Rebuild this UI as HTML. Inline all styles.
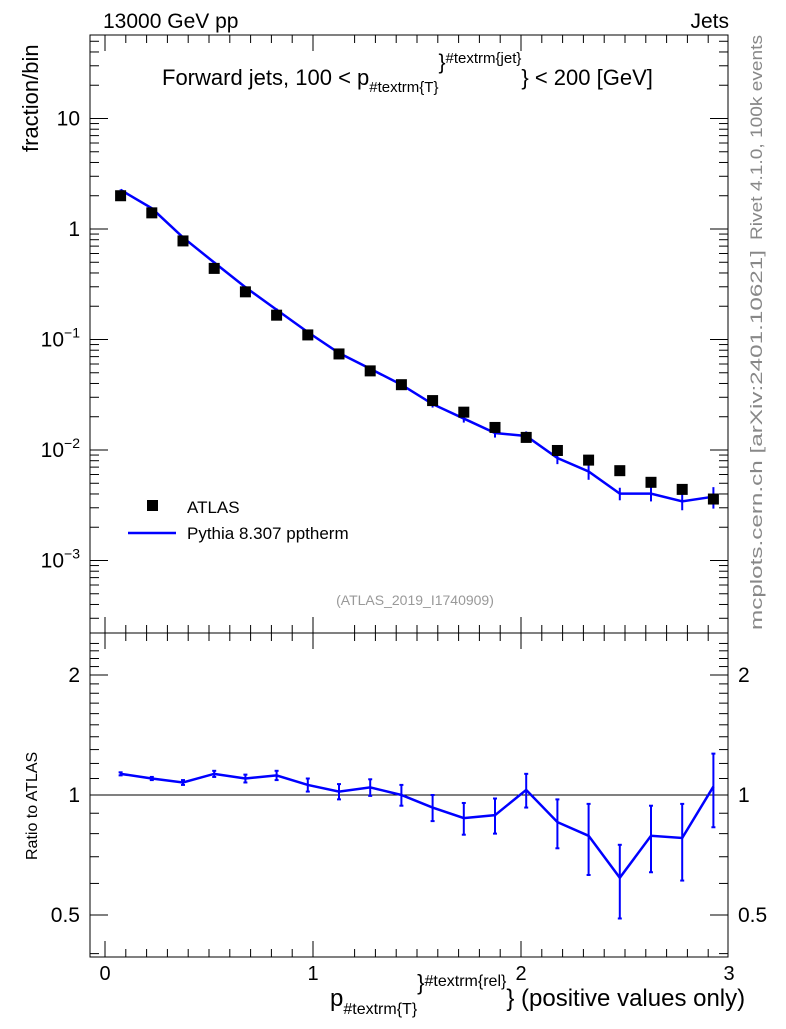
<!DOCTYPE html>
<html><head><meta charset="utf-8"><style>
body{margin:0;background:#fff;}
svg text{font-family:"Liberation Sans",sans-serif;}
</style></head><body>
<svg id="chart" width="786" height="1024" xmlns="http://www.w3.org/2000/svg">
<g id="g"></g>
</svg>
<script>
const binCenters=[0.075,0.225,0.375,0.525,0.675,0.825,0.975,1.125,1.275,1.425,1.575,1.725,1.875,2.025,2.175,2.325,2.475,2.625,2.775,2.925];
const atlasValues=[2.0,1.40,0.78,0.44,0.27,0.166,0.11,0.074,0.052,0.039,0.028,0.022,0.016,0.013,0.0099,0.0081,0.0065,0.0051,0.0044,0.0036];
const ratioValues=[1.13,1.10,1.075,1.13,1.10,1.12,1.06,1.02,1.045,1.00,0.93,0.875,0.89,1.03,0.855,0.79,0.62,0.79,0.78,1.05];
const ratioErrors=[0.01,0.01,0.015,0.02,0.025,0.03,0.04,0.045,0.05,0.06,0.07,0.08,0.09,0.1,0.12,0.16,0.13,0.15,0.17,0.22];
const xTicks=[0,1,2,3];
const yDecades=[-3,-2,-1,0,1];
const ratioTicks=[0.5,1,2];

const NS="http://www.w3.org/2000/svg";
const g=document.getElementById('g');
function el(t,a,txt){const e=document.createElementNS(NS,t);for(const k in a)e.setAttribute(k,a[k]);if(txt!==undefined)e.textContent=txt;g.appendChild(e);return e;}
const L=90,R=728,T=35,B=633,RT=633,RB=957;
const xs=v=>105+208*v;
const ys=v=>229-110.5*Math.log10(v);
const yr=v=>795-398.6*Math.log10(v);

let f=el('rect',{x:L,y:T,width:R-L,height:B-T,fill:'none',stroke:'#000','stroke-width':1});

f=el('rect',{x:L,y:RT,width:R-L,height:RB-RT,fill:'none',stroke:'#000','stroke-width':1});


for(let v=-0.05;v<=3.02;v+=0.1){
  const vv=Math.round(v*10)/10; if(vv<-0.07)continue;
  const x=xs(vv); if(x<L||x>R)continue;
  const major=Math.abs(vv-Math.round(vv))<1e-6;
  const len=major?16:8;
  el('line',{x1:x,y1:B,x2:x,y2:B-len,stroke:'#000'});
  el('line',{x1:x,y1:T,x2:x,y2:T+len,stroke:'#000'});
  el('line',{x1:x,y1:RB,x2:x,y2:RB-len,stroke:'#000'});
  el('line',{x1:x,y1:RT,x2:x,y2:RT+len,stroke:'#000'});
}
xTicks.forEach(v=>{const t=el('text',{x:xs(v),y:980,'font-size':20,'text-anchor':'middle'},String(v));
});

for(let d=-4;d<=1;d++){for(let m=1;m<10;m++){const v=m*Math.pow(10,d);const y=ys(v);if(y<T||y>B)continue;
const len=m==1?18:9;el('line',{x1:L,y1:y,x2:L+len,y2:y,stroke:'#000'});el('line',{x1:R,y1:y,x2:R-len,y2:y,stroke:'#000'});}}
yDecades.forEach(d=>{const y=ys(Math.pow(10,d));let t;
if(d==0)t=el('text',{x:80,y:y+7,'font-size':21,'text-anchor':'end'},'1');
else if(d==1)t=el('text',{x:80,y:y+7,'font-size':21,'text-anchor':'end'},'10');
else{t=el('text',{x:80,y:y+7,'font-size':21,'text-anchor':'end'});
const a=document.createElementNS(NS,'tspan');a.textContent='10';t.appendChild(a);
const b=document.createElementNS(NS,'tspan');b.setAttribute('dy','-9');b.setAttribute('font-size','14');b.textContent='\u2212'+(-d);t.appendChild(b);}
});

for(let v=0.4;v<=2.5;v+=0.1){const vv=Math.round(v*10)/10;const y=yr(vv);if(y<RT||y>RB)continue;
const major=ratioTicks.includes(vv);const len=major?18:9;
el('line',{x1:L,y1:y,x2:L+len,y2:y,stroke:'#000'});el('line',{x1:R,y1:y,x2:R-len,y2:y,stroke:'#000'});}
ratioTicks.forEach(v=>{const y=yr(v);
let t=el('text',{x:80,y:y+7,'font-size':21,'text-anchor':'end'},String(v));
t=el('text',{x:738,y:y+7,'font-size':21},String(v));});
let ln=el('line',{x1:L,y1:yr(1),x2:R,y2:yr(1),stroke:'#000'});


const mc=atlasValues.map((a,i)=>a*ratioValues[i]);
let p=el('polyline',{points:binCenters.map((x,i)=>xs(x)+','+ys(mc[i])).join(' '),fill:'none',stroke:'#0000ff','stroke-width':2.5});

mc.forEach((m,i)=>{const e=m*ratioErrors[i];const x=xs(binCenters[i]);
el('line',{x1:x,y1:ys(m+e),x2:x,y2:ys(Math.max(m-e,1e-6)),stroke:'#0000ff','stroke-width':2});});
atlasValues.forEach((a,i)=>{const r=el('rect',{x:xs(binCenters[i])-5.5,y:ys(a)-5.5,width:11,height:11,fill:'#000'});
});
p=el('polyline',{points:binCenters.map((x,i)=>xs(x)+','+yr(ratioValues[i])).join(' '),fill:'none',stroke:'#0000ff','stroke-width':2.5});

ratioValues.forEach((r,i)=>{const e=ratioErrors[i];const x=xs(binCenters[i]);
el('line',{x1:x,y1:yr(r+e),x2:x,y2:yr(r-e),stroke:'#0000ff','stroke-width':2});
el('line',{x1:x-2,y1:yr(r+e),x2:x+2,y2:yr(r+e),stroke:'#0000ff','stroke-width':2});
el('line',{x1:x-2,y1:yr(r-e),x2:x+2,y2:yr(r-e),stroke:'#0000ff','stroke-width':2});});

let lr=el('rect',{x:147,y:500,width:11,height:11,fill:'#000'});
let lt=el('text',{x:187,y:513,'font-size':17},'ATLAS');
ln=el('line',{x1:128,y1:533,x2:176,y2:533,stroke:'#0000ff','stroke-width':2.5});
lt=el('text',{x:187,y:539,'font-size':17},'Pythia 8.307 pptherm');
</script>
<svg width="786" height="1024" style="position:absolute;left:0;top:0" xmlns="http://www.w3.org/2000/svg">
<text x="103" y="28" font-size="21">13000 GeV pp</text>
<text x="729" y="28" font-size="21" text-anchor="end">Jets</text>
<text x="162" y="85" font-size="22">Forward jets, 100 &lt; p<tspan font-size="15" dy="7">#textrm{T}</tspan><tspan font-size="21" dy="-23">}</tspan><tspan font-size="15" dy="-6">#textrm{jet}</tspan><tspan dy="22">} &lt; 200 [GeV]</tspan></text>
<text x="415" y="605" font-size="14" fill="#999" text-anchor="middle">(ATLAS_2019_I1740909)</text>
<text transform="translate(38,152) rotate(-90)" font-size="22">fraction/bin</text>
<text transform="translate(37,860) rotate(-90)" font-size="16">Ratio to ATLAS</text>
<text transform="translate(762,240) rotate(-90)" font-size="17" fill="#888" textLength="205" lengthAdjust="spacingAndGlyphs">Rivet 4.1.0,  100k events</text>
<text transform="translate(762,630) rotate(-90)" font-size="17" fill="#888" textLength="380" lengthAdjust="spacingAndGlyphs">mcplots.cern.ch [arXiv:2401.10621]</text>
<text x="330" y="1006" font-size="24">p<tspan font-size="16" dy="8">#textrm{T}</tspan><tspan font-size="22" dy="-24">}</tspan><tspan font-size="16" dy="-4">#textrm{rel}</tspan><tspan dy="20">} (positive values only)</tspan></text>
</svg>
</body></html>
